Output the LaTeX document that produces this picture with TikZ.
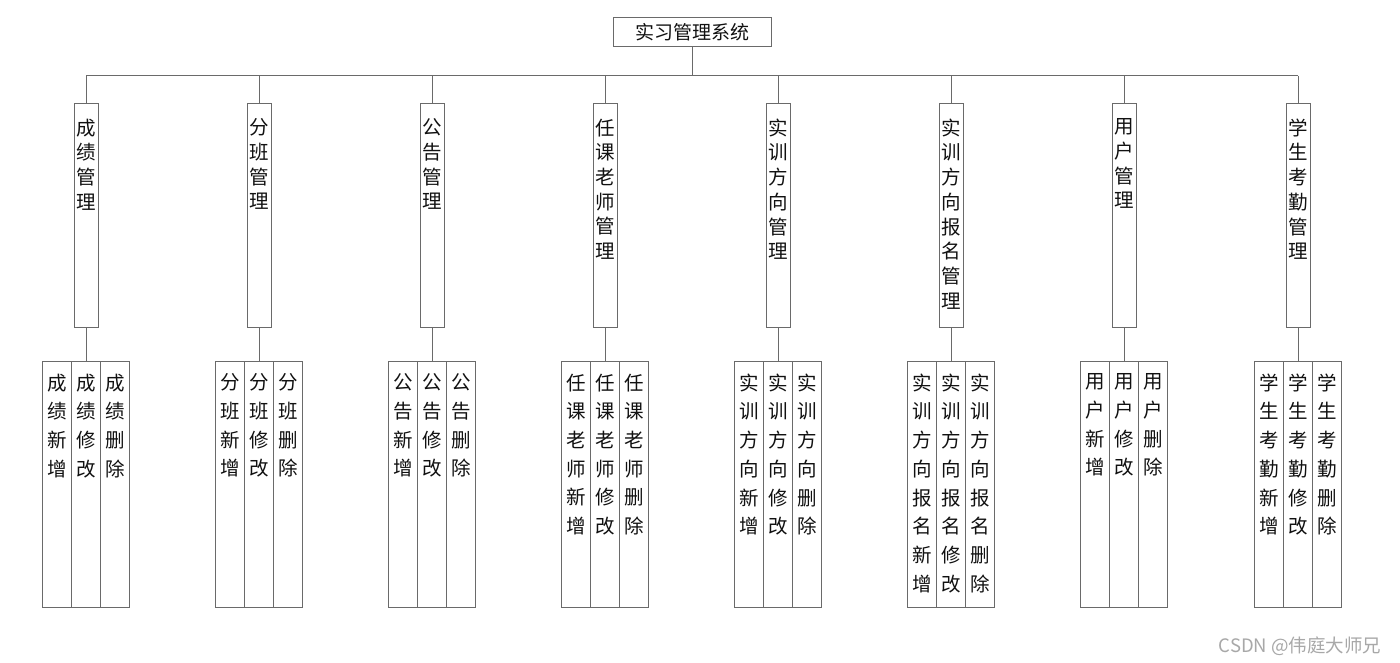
\documentclass[tikz,border=0pt]{standalone}
\usepackage{fontspec}
\newfontfamily\cjk{Noto Sans CJK SC}
\definecolor{ln}{HTML}{6A6A6A}
\definecolor{tx}{HTML}{111111}
\definecolor{wm}{HTML}{A8A8A8}
\begin{document}
\begin{tikzpicture}[x=1pt,y=-1pt,
  topbox/.style={draw=ln, line width=1pt, minimum width=158pt, minimum height=29pt, inner sep=0pt, text=tx, font=\cjk\fontsize{19}{19}\selectfont},
  midbox/.style={draw=ln, line width=1pt, minimum width=24pt, minimum height=223pt, inner sep=0pt},
  leafbox/.style={draw=ln, line width=1pt, minimum width=29pt, minimum height=246pt, inner sep=0pt},
  midtxt/.style={anchor=north, inner sep=0pt, align=center, text=tx, font=\cjk\fontsize{19.5}{24.7}\selectfont},
  leaftxt/.style={anchor=north, inner sep=0pt, align=center, text=tx, font=\cjk\fontsize{19.5}{28.7}\selectfont},
  conn/.style={draw=ln, line width=1pt}]
\fill[white] (0,0) rectangle (1400,663);
\useasboundingbox (0,0) rectangle (1400,663);
\node[topbox] (root) at (692,32.5) {实习管理系统};
\coordinate (bus) at (692,76);
\draw[conn] (root.south) -- (bus);
\foreach \n/\x/\t/\p in {
 1/86/{成\\绩\\管\\理}/{成\\绩},
 2/259/{分\\班\\管\\理}/{分\\班},
 3/432/{公\\告\\管\\理}/{公\\告},
 4/605/{任\\课\\老\\师\\管\\理}/{任\\课\\老\\师},
 5/778/{实\\训\\方\\向\\管\\理}/{实\\训\\方\\向},
 6/951/{实\\训\\方\\向\\报\\名\\管\\理}/{实\\训\\方\\向\\报\\名},
 7/1124/{用\\户\\管\\理}/{用\\户},
 8/1298/{学\\生\\考\\勤\\管\\理}/{学\\生\\考\\勤}}
{
 \node[midbox] (g\n) at (\x,215.5) {};
 \node[midtxt] (g\n t) at ([yshift=-15pt]g\n.north) {\t};
 \node[leafbox] (g\n a) at ({\x-29},484) {};
 \node[leafbox] (g\n b) at (\x,484) {};
 \node[leafbox] (g\n c) at ({\x+29},484) {};
 \node[leaftxt] (g\n at) at ([yshift=-13pt]g\n a.north) {\p\\新\\增};
 \node[leaftxt] (g\n bt) at ([yshift=-13pt]g\n b.north) {\p\\修\\改};
 \node[leaftxt] (g\n ct) at ([yshift=-13pt]g\n c.north) {\p\\删\\除};
 \draw[conn] (bus -| g\n.north) -- (g\n.north);
 \draw[conn] (g\n.south) -- (g\n b.north);
}
\draw[conn] (bus -| g1.north) -- (bus -| g8.north);
\node[inner sep=0pt, text=wm, font=\cjk\fontsize{18.5}{18.5}\selectfont] (wmk) at (1300,646.5) {CSDN @伟庭大师兄};
\end{tikzpicture}
\end{document}
